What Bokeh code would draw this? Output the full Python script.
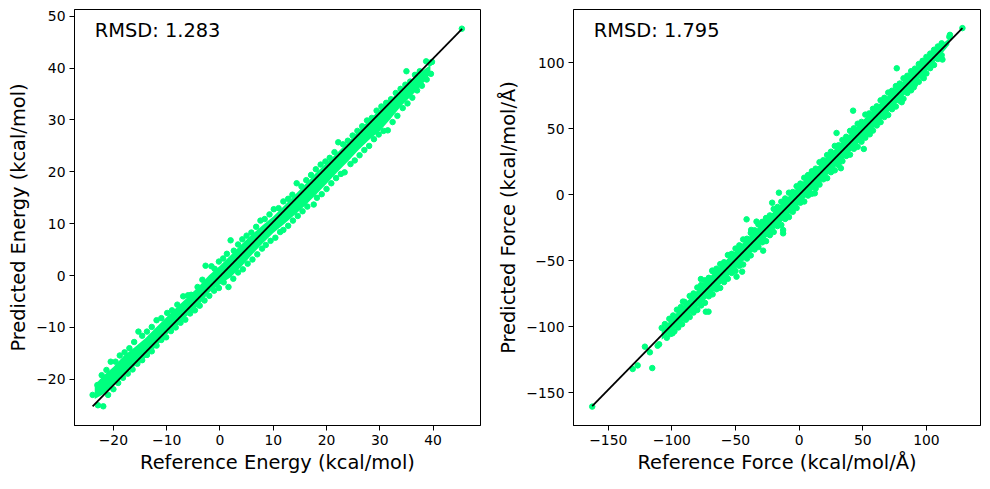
from bokeh.plotting import figure
from bokeh.layouts import row
from bokeh.models import FixedTicker, Label, Range1d
from bokeh.embed import file_html
from bokeh.resources import INLINE

GREEN = "#00FF7F"
FONT = "DejaVu Sans"

# ---- energy panel ----
energy_rmsd = "RMSD: 1.283"
energy_xticks = [-20, -10, 0, 10, 20, 30, 40]
energy_yticks = [-20, -10, 0, 10, 20, 30, 40, 50]

# dense core of the point cloud: lower / upper edge at sampled reference values
energy_band_x = [-23.5, -22, -20, -18, -16, -14, -12, -10, -8, -6, -4, -2, 0, 2, 4, 6, 8, 10,
                 12, 14, 16, 18, 20, 22, 24, 26, 28, 30, 32, 34, 36, 38, 39.5]
energy_band_hi = [-21.1, -19.4, -17.6, -15.4, -13.8, -12.1, -10.0, -8.0, -6.0, -4.1, -2.1, 0.1,
                  1.9, 3.9, 6.0, 7.9, 9.7, 11.4, 13.4, 15.5, 17.6, 19.8, 21.7, 23.7, 25.7, 27.9,
                  30.0, 32.0, 34.0, 35.8, 37.6, 39.5, 40.6]
energy_band_lo = [-23.8, -22.9, -21.3, -19.1, -17.5, -15.9, -13.7, -11.4, -9.6, -7.6, -5.7, -3.2,
                  -1.7, -0.3, 1.7, 4.0, 6.2, 8.2, 9.9, 11.7, 13.5, 15.6, 17.7, 19.9, 22.0, 24.2,
                  26.2, 27.9, 30.2, 32.7, 34.7, 36.9, 38.9]

# single points along the upper edge
energy_up_ref = [-23.0, -22.2, -21.3, -20.5, -19.6, -18.8, -17.9, -17.0, -16.1, -15.3, -14.6, -13.7,
                 -12.8, -11.9, -11.0, -9.9, -9.0, -8.0, -6.9, -6.0, -5.4, -4.2, -3.3, -2.7, -1.6,
                 -1.0, -0.2, 0.6, 1.3, 2.0, 2.6, 3.4, 4.2, 5.0, 5.9, 6.8, 7.6, 8.4, 9.3, 10.1, 11.0,
                 11.9, 12.8, 13.6, 14.4, 15.3, 16.2, 17.1, 18.0, 18.9, 19.8, 20.6, 21.5, 22.2, 23.1,
                 24.0, 24.9, 25.8, 26.7, 27.6, 28.5, 29.4, 30.3, 31.2, 32.1, 33.0, 33.9, 34.8, 35.7,
                 36.6, 37.5, 38.7, 39.4, 39.8]
energy_up_pred = [-21.1, -19.2, -18.2, -16.6, -16.6, -15.4, -14.8, -14.0, -12.8, -10.8, -11.6, -10.8,
                  -9.9, -8.6, -8.2, -7.2, -6.7, -5.6, -4.0, -3.8, -3.7, -2.2, -0.8, 1.9, 1.8, 1.3,
                  2.7, 3.3, 4.2, 6.8, 4.8, 6.0, 7.0, 7.7, 8.3, 9.4, 10.6, 10.9, 11.8, 12.8, 13.0,
                  14.3, 14.8, 15.6, 17.8, 17.2, 18.4, 19.4, 20.5, 21.4, 22.0, 22.7, 23.8, 25.7, 25.3,
                  26.0, 27.0, 27.9, 28.8, 29.9, 30.4, 31.8, 32.6, 33.3, 34.0, 35.2, 36.0, 36.8, 37.4,
                  38.7, 39.4, 41.3, 41.0, 41.2]
# single points along the lower edge
energy_lo_ref = [-22.9, -21.9, -21.0, -20.0, -19.1, -18.2, -17.3, -16.4, -15.5, -14.6, -13.7, -12.8,
                 -11.9, -11.0, -10.1, -9.2, -8.3, -7.4, -6.5, -5.6, -4.7, -3.8, -2.9, -2.0, -1.1,
                 -0.2, 0.7, 1.6, 2.5, 3.4, 4.3, 5.2, 6.1, 7.0, 7.9, 8.6, 9.5, 10.4, 11.3, 11.9, 12.8,
                 13.7, 14.6, 15.5, 16.4, 17.6, 18.2, 19.1, 20.0, 20.9, 21.8, 22.7, 23.4, 24.5, 25.3,
                 26.2, 27.1, 28.0, 28.9, 29.8, 30.7, 31.5, 32.4, 33.3, 34.3, 35.2, 36.1, 37.0, 37.9,
                 38.8, 39.6]
energy_lo_pred = [-25.0, -25.2, -23.0, -21.9, -20.7, -19.7, -18.9, -18.1, -17.0, -16.3, -15.3, -14.6,
                  -13.5, -12.4, -11.9, -10.7, -10.0, -9.1, -8.5, -7.3, -6.7, -5.8, -4.8, -3.9, -2.9,
                  -2.4, -1.3, -2.2, -0.6, 0.6, 1.2, 2.3, 3.1, 4.1, 5.2, 5.9, 6.7, 7.3, 8.4, 8.8, 9.6,
                  10.6, 11.5, 12.4, 13.3, 13.7, 15.0, 15.7, 16.7, 17.8, 18.8, 19.6, 19.9, 21.5, 22.2,
                  23.2, 24.2, 25.0, 26.3, 27.2, 27.9, 28.0, 29.6, 30.8, 32.3, 33.2, 34.3, 35.7, 36.6,
                  37.8, 38.9]
energy_out_ref = [-23.9, 35.0, 45.4]
energy_out_pred = [-23.0, 39.4, 47.6]
energy_fit_x = [-23.9, 45.45]
energy_fit_y = [-25.2, 47.55]

# ---- force panel ----
force_rmsd = "RMSD: 1.795"
force_xticks = [-150, -100, -50, 0, 50, 100]
force_yticks = [-150, -100, -50, 0, 50, 100]

force_band_x = [-108, -100, -90, -80, -70, -60, -50, -40, -30, -20, -10, 0, 10, 20, 30, 40, 50,
                60, 70, 80, 90, 100, 110, 118]
force_band_hi = [-102.9, -93.5, -82.7, -72.3, -62.0, -52.1, -42.3, -32.5, -22.6, -12.8, -3.0, 6.9,
                 16.7, 26.6, 36.4, 46.3, 56.1, 65.9, 75.3, 84.6, 94.0, 103.3, 112.2, 118.5]
force_band_lo = [-109.9, -103.5, -94.7, -85.3, -76.0, -66.1, -56.3, -46.5, -36.6, -26.8, -17.0, -7.1,
                 2.7, 12.6, 22.4, 32.3, 42.1, 51.9, 62.3, 72.6, 83.0, 93.3, 104.2, 113.5]

force_up_ref = [-108, -102, -96, -90, -86, -80, -74, -68, -62, -56, -50, -44, -38, -32, -26, -20,
                -14, -8, -2, 4, 10, 16, 22, 28, 34, 40, 46, 52, 58, 64, 70, 76, 82, 88, 94, 100,
                106, 112, 118]
force_up_pred = [-100.9, -94.0, -87.1, -81.2, -76.7, -70.3, -64.9, -58.0, -52.6, -45.7, -40.8, -33.9,
                 -29.0, -22.6, -17.7, -10.8, -5.4, 1.5, 6.4, 12.8, 17.7, 24.6, 30.0, 36.9, 41.4,
                 48.3, 53.7, 60.6, 65.0, 71.4, 77.3, 82.2, 88.1, 93.5, 98.9, 104.3, 109.7, 114.6,
                 119.5]
force_up2_ref = [-99, -93, -83, -77, -71, -65, -59, -53, -47, -41, -35, -29, -23, -17, -11, -5,
                 1, 7, 13, 19, 25, 31, 37, 43, 49, 55, 61, 67, 73, 79, 85, 91, 97, 103, 109]
force_up2_pred = [-91.5, -85.1, -74.8, -68.4, -63.0, -56.1, -51.2, -44.8, -38.4, -33.4, -27.0, -20.6,
                  -15.7, -9.3, -2.9, 2.0, 8.4, 14.8, 19.7, 26.1, 32.5, 37.4, 43.8, 50.2, 55.1, 61.5,
                  66.9, 73.3, 78.7, 84.1, 90.0, 95.4, 101.3, 106.8, 112.2]
force_lo_ref = [-110, -104, -98, -92, -86, -80, -74, -68, -62, -56, -50, -44, -38, -32, -26, -20,
                -14, -8, -2, 4, 10, 16, 22, 28, 34, 40, 46, 52, 58, 64, 70, 76, 82, 88, 94, 100,
                106, 112]
force_lo_pred = [-113.3, -108.4, -103.5, -98.1, -92.7, -87.3, -81.9, -75.5, -70.6, -63.7, -57.8, -52.9,
                 -46.0, -39.6, -35.2, -28.3, -22.9, -17.0, -10.1, -5.2, 0.7, 7.6, 12.5, 18.4, 25.4,
                 30.3, 36.2, 43.1, 48.5, 54.9, 60.3, 66.7, 72.6, 79.0, 85.4, 91.8, 98.2, 105.6]
force_lo2_ref = [-101, -95, -89, -83, -77, -71, -65, -59, -53, -47, -41, -35, -29, -23, -17, -11, -5,
                 1, 7, 13, 19, 25, 31, 37, 43, 49, 55, 61, 67, 73, 79, 85, 91, 97, 103, 109]
force_lo2_pred = [-105.5, -100.6, -94.7, -89.3, -83.9, -77.0, -71.6, -66.2, -59.3, -53.9, -48.4, -41.5,
                  -36.1, -30.7, -23.8, -18.4, -13.0, -6.1, -0.7, 4.7, 11.6, 17.0, 22.4, 29.3, 34.7,
                  40.1, 47.0, 52.4, 58.8, 64.7, 71.1, 77.0, 83.4, 89.3, 95.8, 102.7]
force_out_ref = [-162.6, -130.8, -126.9, -115.4, -121.2, -117.3, -111.2, -105.5, -100.7, -99.5,
                 -91.3, -84.2, -77.2, -73.3, -71.2, -68.3, -49.2, -44.8, -41.3, -37.7, -33.5, -28.3,
                 -21.2, -15.9, -12.6, -12.6, 12.3, 29.4, 32.8, 42.4, 50.8, 55.5, 76.7, 80.6, 90.1,
                 97.9, 103.7, 112.6, 118.5, 128.3]
force_out_pred = [-160.5, -132.0, -129.3, -131.3, -115.1, -119.4, -114.4, -98.0, -94.2, -105.0,
                  -81.0, -76.7, -63.9, -88.6, -88.6, -57.5, -62.1, -58.3, -18.7, -26.7, -20.4, -42.4,
                  -6.1, 1.5, -29.3, -26.8, 1.0, 46.7, 20.0, 63.6, 34.6, 45.7, 95.7, 70.0, 81.3,
                  88.2, 105.8, 102.3, 121.0, 126.1]
force_fit_x = [-162.6, 128.3]
force_fit_y = [-160.1, 126.1]


def minus(v):
    return str(v).replace("-", "\u2212")


def panel(xr, yr, width, left, right, xlabel, ylabel, xticks, yticks):
    p = figure(width=width, height=481, x_range=Range1d(*xr), y_range=Range1d(*yr),
               output_backend="svg", toolbar_location=None,
               min_border_left=left, min_border_right=right,
               min_border_top=9, min_border_bottom=56)
    p.xgrid.grid_line_color = None
    p.ygrid.grid_line_color = None
    p.outline_line_color = "black"
    p.outline_line_width = 1
    p.background_fill_color = "white"
    p.border_fill_color = "white"

    p.xaxis.ticker = FixedTicker(ticks=xticks)
    p.yaxis.ticker = FixedTicker(ticks=yticks)
    p.xaxis.major_label_overrides = {t: minus(t) for t in xticks}
    p.yaxis.major_label_overrides = {t: minus(t) for t in yticks}
    p.xaxis.axis_label = xlabel
    p.yaxis.axis_label = ylabel

    p.axis.axis_line_color = "black"
    p.axis.major_tick_line_color = "black"
    p.axis.major_tick_in = 0
    p.axis.major_tick_out = 5
    p.axis.minor_tick_line_color = None
    p.axis.major_label_text_font = FONT
    p.axis.major_label_text_font_size = "13.9px"
    p.axis.major_label_text_color = "black"
    p.axis.major_label_standoff = 4
    p.axis.axis_label_text_font = FONT
    p.axis.axis_label_text_font_size = "19.4px"
    p.axis.axis_label_text_font_style = "normal"
    p.axis.axis_label_text_color = "black"
    p.axis.axis_label_standoff = 3
    return p


def fill(p, bx, lo, hi, groups, fx, fy, text):
    p.varea(x=bx, y1=lo, y2=hi, fill_color=GREEN)
    for gx, gy in groups:
        p.scatter(gx, gy, size=5.5, color=GREEN)
    p.line(fx, fy, line_color="black", line_width=1.8)
    xr, yr = p.x_range, p.y_range
    p.add_layout(Label(x=xr.start + 0.05 * (xr.end - xr.start),
                       y=yr.start + 0.95 * (yr.end - yr.start),
                       text=text, text_font=FONT, text_font_size="19.4px",
                       text_color="black", text_baseline="alphabetic"))


p1 = panel((-27.3, 48.9), (-28.9, 51.3), 490, 74, 10,
           "Reference Energy (kcal/mol)", "Predicted Energy (kcal/mol)",
           energy_xticks, energy_yticks)
fill(p1, energy_band_x, energy_band_lo, energy_band_hi,
     [(energy_up_ref, energy_up_pred), (energy_lo_ref, energy_lo_pred),
      (energy_out_ref, energy_out_pred)],
     energy_fit_x, energy_fit_y, energy_rmsd)

p2 = panel((-177.3, 142.5), (-174.8, 140.2), 492, 83, 2,
           "Reference Force (kcal/mol/\u00c5)", "Predicted Force (kcal/mol/\u00c5)",
           force_xticks, force_yticks)
fill(p2, force_band_x, force_band_lo, force_band_hi,
     [(force_up_ref, force_up_pred), (force_up2_ref, force_up2_pred),
      (force_lo_ref, force_lo_pred), (force_lo2_ref, force_lo2_pred),
      (force_out_ref, force_out_pred)],
     force_fit_x, force_fit_y, force_rmsd)

layout = row(p1, p2)
open("out.html", "w").write(file_html(layout, INLINE))
